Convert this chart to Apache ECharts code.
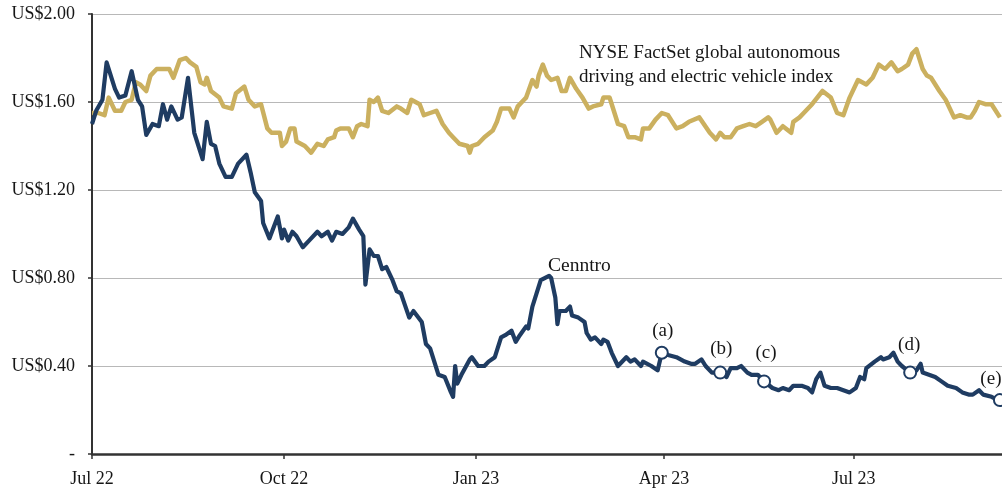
<!DOCTYPE html>
<html>
<head>
<meta charset="utf-8">
<script src="https://cdn.jsdelivr.net/npm/echarts@6/dist/echarts.min.js"></script>
<style>
  html, body { margin: 0; padding: 0; background: #fff; }
  #chart { width: 1002px; height: 492px; }
</style>
</head>
<body>
<div id="chart"></div>
<script>
// Cenntro share price (US$)
const cenntroDates = [
  '2022-07-01','2022-07-03','2022-07-06','2022-07-08','2022-07-12','2022-07-14','2022-07-17','2022-07-20','2022-07-23','2022-07-25',
  '2022-07-27','2022-07-30','2022-08-02','2022-08-04','2022-08-06','2022-08-08','2022-08-11','2022-08-13','2022-08-16','2022-08-19',
  '2022-08-23','2022-08-25','2022-08-27','2022-08-29','2022-08-31','2022-09-03','2022-09-06','2022-09-09','2022-09-13','2022-09-15',
  '2022-09-17','2022-09-20','2022-09-21','2022-09-24','2022-09-26','2022-09-28','2022-09-30','2022-10-01','2022-10-03','2022-10-05',
  '2022-10-07','2022-10-10','2022-10-13','2022-10-17','2022-10-19','2022-10-22','2022-10-24','2022-10-26','2022-10-29','2022-11-01',
  '2022-11-03','2022-11-06','2022-11-08','2022-11-09','2022-11-11','2022-11-13','2022-11-15','2022-11-17','2022-11-19','2022-11-22',
  '2022-11-24','2022-11-26','2022-11-30','2022-12-02','2022-12-06','2022-12-08','2022-12-10','2022-12-14','2022-12-17','2022-12-20',
  '2022-12-21','2022-12-22','2022-12-23','2022-12-25','2022-12-29','2022-12-30','2023-01-02','2023-01-05','2023-01-07','2023-01-10',
  '2023-01-13','2023-01-15','2023-01-18','2023-01-20','2023-01-22','2023-01-25','2023-01-26','2023-01-28','2023-01-30','2023-02-01',
  '2023-02-05','2023-02-06','2023-02-08','2023-02-09','2023-02-10','2023-02-13','2023-02-15','2023-02-16','2023-02-19','2023-02-22',
  '2023-02-23','2023-02-25','2023-02-27','2023-03-02','2023-03-03','2023-03-05','2023-03-07','2023-03-10','2023-03-14','2023-03-16',
  '2023-03-18','2023-03-21','2023-03-22','2023-03-26','2023-03-29','2023-03-31','2023-04-03','2023-04-07','2023-04-11','2023-04-14',
  '2023-04-16','2023-04-19','2023-04-21','2023-04-24','2023-04-28','2023-05-01','2023-05-03','2023-05-06','2023-05-08','2023-05-11',
  '2023-05-13','2023-05-16','2023-05-19','2023-05-23','2023-05-26','2023-05-28','2023-05-31','2023-06-02','2023-06-06','2023-06-09',
  '2023-06-11','2023-06-13','2023-06-15','2023-06-17','2023-06-20','2023-06-23','2023-06-26','2023-06-29','2023-07-02','2023-07-04',
  '2023-07-06','2023-07-07','2023-07-11','2023-07-14','2023-07-15','2023-07-18','2023-07-20','2023-07-22','2023-07-24','2023-07-28',
  '2023-07-31','2023-08-02','2023-08-03','2023-08-06','2023-08-09','2023-08-12','2023-08-15','2023-08-19','2023-08-22','2023-08-25',
  '2023-08-27','2023-08-30','2023-09-01','2023-09-05','2023-09-07','2023-09-09'
];
const cenntroValues = [
  1.50,1.56,1.61,1.78,1.66,1.62,1.63,1.74,1.61,1.58,
  1.45,1.50,1.49,1.59,1.52,1.58,1.52,1.53,1.71,1.46,
  1.34,1.51,1.41,1.40,1.32,1.26,1.26,1.32,1.36,1.28,
  1.19,1.15,1.05,0.98,1.03,1.08,0.98,1.02,0.97,1.01,
  0.99,0.94,0.97,1.01,0.99,1.01,0.97,1.01,1.00,1.03,
  1.07,1.02,0.99,0.77,0.93,0.90,0.90,0.84,0.85,0.79,
  0.74,0.73,0.62,0.65,0.60,0.50,0.48,0.36,0.35,0.28,
  0.26,0.40,0.32,0.36,0.43,0.44,0.40,0.40,0.42,0.44,
  0.53,0.54,0.56,0.51,0.54,0.58,0.57,0.67,0.73,0.79,
  0.81,0.80,0.71,0.59,0.65,0.65,0.67,0.63,0.62,0.60,
  0.55,0.52,0.53,0.50,0.52,0.51,0.46,0.40,0.44,0.42,
  0.43,0.40,0.42,0.40,0.38,0.46,0.45,0.44,0.42,0.41,
  0.41,0.43,0.40,0.37,0.37,0.35,0.39,0.39,0.40,0.37,
  0.36,0.36,0.33,0.30,0.29,0.30,0.29,0.31,0.31,0.30,
  0.28,0.34,0.37,0.31,0.30,0.30,0.29,0.28,0.30,0.35,
  0.34,0.39,0.42,0.44,0.43,0.44,0.46,0.42,0.40,0.37,
  0.38,0.41,0.37,0.36,0.35,0.33,0.31,0.30,0.28,0.27,
  0.27,0.29,0.27,0.26,0.25,0.24
];

// NYSE FactSet global autonomous driving and electric vehicle index (rebased)
const indexDates = [
  '2022-07-01','2022-07-04','2022-07-07','2022-07-09','2022-07-12','2022-07-15','2022-07-17','2022-07-20','2022-07-22','2022-07-24',
  '2022-07-27','2022-07-29','2022-08-01','2022-08-03','2022-08-07','2022-08-09','2022-08-12','2022-08-15','2022-08-17','2022-08-20',
  '2022-08-22','2022-08-24','2022-08-25','2022-08-27','2022-08-31','2022-09-02','2022-09-06','2022-09-08','2022-09-12','2022-09-14',
  '2022-09-17','2022-09-20','2022-09-23','2022-09-25','2022-09-29','2022-09-30','2022-10-02','2022-10-04','2022-10-06','2022-10-07',
  '2022-10-11','2022-10-14','2022-10-17','2022-10-20','2022-10-22','2022-10-25','2022-10-26','2022-10-28','2022-11-01','2022-11-03',
  '2022-11-05','2022-11-07','2022-11-10','2022-11-11','2022-11-13','2022-11-15','2022-11-17','2022-11-20','2022-11-24','2022-11-26',
  '2022-11-29','2022-12-01','2022-12-05','2022-12-07','2022-12-10','2022-12-13','2022-12-16','2022-12-19','2022-12-21','2022-12-24',
  '2022-12-28','2022-12-29','2022-12-30','2023-01-02','2023-01-05','2023-01-09','2023-01-11','2023-01-13','2023-01-17','2023-01-19',
  '2023-01-21','2023-01-24','2023-01-25','2023-01-28','2023-01-30','2023-01-31','2023-02-02','2023-02-04','2023-02-06','2023-02-09',
  '2023-02-11','2023-02-13','2023-02-15','2023-02-18','2023-02-21','2023-02-24','2023-02-26','2023-03-02','2023-03-03','2023-03-06',
  '2023-03-08','2023-03-10','2023-03-13','2023-03-15','2023-03-18','2023-03-21','2023-03-22','2023-03-25','2023-03-28','2023-03-31',
  '2023-04-03','2023-04-07','2023-04-10','2023-04-13','2023-04-18','2023-04-23','2023-04-26','2023-04-28','2023-04-30','2023-05-03',
  '2023-05-06','2023-05-09','2023-05-12','2023-05-15','2023-05-18','2023-05-21','2023-05-22','2023-05-25','2023-05-28','2023-06-01',
  '2023-06-02','2023-06-05','2023-06-07','2023-06-11','2023-06-16','2023-06-20','2023-06-23','2023-06-26','2023-06-29','2023-07-03',
  '2023-07-07','2023-07-10','2023-07-13','2023-07-16','2023-07-19','2023-07-22','2023-07-24','2023-07-27','2023-07-29','2023-07-31',
  '2023-08-03','2023-08-05','2023-08-07','2023-08-11','2023-08-14','2023-08-18','2023-08-21','2023-08-24','2023-08-26','2023-08-28',
  '2023-08-30','2023-09-02','2023-09-05','2023-09-09'
];
const indexValues = [
  1.55,1.55,1.54,1.62,1.56,1.56,1.60,1.61,1.69,1.68,
  1.65,1.72,1.75,1.75,1.75,1.71,1.79,1.80,1.78,1.76,
  1.69,1.68,1.71,1.65,1.62,1.58,1.57,1.64,1.67,1.61,
  1.58,1.59,1.48,1.46,1.46,1.40,1.42,1.48,1.48,1.42,
  1.40,1.37,1.41,1.40,1.43,1.44,1.47,1.48,1.48,1.44,
  1.49,1.50,1.49,1.61,1.60,1.62,1.56,1.55,1.58,1.57,
  1.55,1.61,1.59,1.54,1.55,1.56,1.50,1.46,1.44,1.41,
  1.40,1.37,1.40,1.41,1.44,1.47,1.51,1.57,1.57,1.53,
  1.58,1.61,1.62,1.70,1.67,1.72,1.77,1.72,1.70,1.71,
  1.65,1.65,1.71,1.66,1.62,1.57,1.58,1.59,1.62,1.62,
  1.56,1.50,1.49,1.44,1.44,1.43,1.48,1.48,1.52,1.55,
  1.54,1.48,1.49,1.51,1.53,1.46,1.43,1.46,1.44,1.44,
  1.48,1.49,1.50,1.49,1.51,1.53,1.52,1.46,1.49,1.46,
  1.51,1.53,1.55,1.59,1.65,1.62,1.55,1.54,1.62,1.70,
  1.68,1.71,1.77,1.75,1.78,1.74,1.75,1.77,1.82,1.84,
  1.75,1.72,1.71,1.65,1.61,1.53,1.54,1.53,1.53,1.56,
  1.60,1.59,1.59,1.53
];

// annotated points on the Cenntro line
const noteDates = ['2023-03-31','2023-04-28','2023-05-19','2023-07-28','2023-09-09'];
const noteValues = [0.46, 0.37, 0.33, 0.37, 0.245];
const noteLabels = ['(a)','(b)','(c)','(d)','(e)'];
const noteOffsets = [[1, 0], [1, -2], [2, -7], [-1, -6], [-9, 0]];

const quarterTicks = ['2022-07-01','2022-10-01','2023-01-01','2023-04-01','2023-07-01'];
const monthNames = ['Jan','Feb','Mar','Apr','May','Jun','Jul','Aug','Sep','Oct','Nov','Dec'];

const NAVY = '#1f3c62';
const GOLD = '#cbb05f';
const TEXT = '#161616';
const FONT = 'Liberation Serif';

function toTime(s) {
  const p = s.split('-');
  return new Date(+p[0], +p[1] - 1, +p[2]).getTime();
}

const chart = echarts.init(document.getElementById('chart'));
const tickTimes = quarterTicks.map(toTime);

const option = {
  animation: false,
  backgroundColor: '#fff',
  textStyle: { fontFamily: FONT },
  grid: { left: 92, right: 0, top: 14, bottom: 38 },
  xAxis: {
    type: 'value',
    min: toTime('2022-07-01'),
    max: toTime('2023-09-10'),
    axisLine: { show: true, lineStyle: { color: '#333', width: 2.5 } },
    axisTick: { show: true, customValues: tickTimes, length: 5, lineStyle: { color: '#333', width: 1.5 } },
    axisLabel: {
      customValues: tickTimes,
      margin: 16,
      fontSize: 18,
      fontFamily: FONT,
      color: TEXT,
      formatter: function (v) {
        const d = new Date(v);
        return monthNames[d.getMonth()] + ' ' + String(d.getFullYear()).slice(2);
      }
    },
    splitLine: { show: false }
  },
  yAxis: {
    type: 'value',
    min: 0,
    max: 2,
    interval: 0.4,
    axisLine: { show: true, lineStyle: { color: '#333', width: 2 } },
    axisTick: { show: true, length: 4, lineStyle: { color: '#333', width: 1.5 } },
    axisLabel: {
      margin: 17,
      fontSize: 18,
      fontFamily: FONT,
      color: TEXT,
      formatter: function (v) { return v === 0 ? '-' : 'US$' + v.toFixed(2); }
    },
    splitLine: { show: true, lineStyle: { color: '#b8b8b8', width: 1 } }
  },
  graphic: [
    {
      type: 'text', left: 579, top: 41,
      style: {
        text: 'NYSE FactSet global autonomous\ndriving and electric vehicle index',
        font: '19px "Liberation Serif"', fill: TEXT, lineHeight: 24
      }
    },
    {
      type: 'text', left: 548, top: 256,
      style: { text: 'Cenntro', font: '19.5px "Liberation Serif"', fill: TEXT }
    }
  ],
  series: [
    {
      name: 'Index',
      type: 'line',
      data: indexDates.map((d, i) => [toTime(d), indexValues[i]]),
      showSymbol: false,
      lineStyle: { color: GOLD, width: 4.5, join: 'round' },
      itemStyle: { color: GOLD }
    },
    {
      name: 'Cenntro',
      type: 'line',
      data: cenntroDates.map((d, i) => [toTime(d), cenntroValues[i]]),
      showSymbol: false,
      lineStyle: { color: NAVY, width: 4.2, join: 'round' },
      itemStyle: { color: NAVY }
    },
    {
      name: 'Notes',
      type: 'scatter',
      symbol: 'circle',
      symbolSize: 12,
      itemStyle: { color: '#fff', borderColor: NAVY, borderWidth: 2, opacity: 1 },
      label: {
        show: true,
        position: 'top',
        distance: 5,
        fontSize: 19,
        fontFamily: FONT,
        color: TEXT
      },
      data: noteDates.map((d, i) => ({
        value: [toTime(d), noteValues[i]],
        label: { formatter: noteLabels[i], offset: noteOffsets[i] }
      })),
      z: 5
    }
  ]
};

chart.setOption(option);
</script>
</body>
</html>
